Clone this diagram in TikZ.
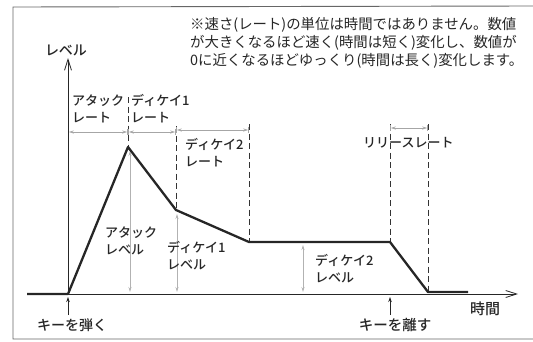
\documentclass[tikz,border=0pt]{standalone}
\usepackage{fontspec}
\setmainfont{Noto Sans CJK JP}
\newfontfamily\jpmed{Noto Sans CJK JP Medium}
\usetikzlibrary{arrows.meta}
\tikzset{
  lbl/.style={font=\jpmed\fontsize{13}{17}\selectfont, inner sep=0pt, align=left, text=black!85},
  notetxt/.style={font=\fontsize{14.4}{17}\selectfont, inner sep=0pt, anchor=west, text=black!85},
  env/.style={line width=2.3pt, draw=black!85, line join=round},
  axisline/.style={line width=0.9pt, draw=black!85, -{Straight Barb[length=11pt,width=7pt,line width=0.8pt]}},
  vdashed/.style={dashed, dash pattern=on 6pt off 3.5pt, line width=0.8pt, draw=black!80},
  dimline/.style={draw=black!35, line width=0.8pt, >={Stealth[length=5pt,width=3pt]}, |<->|},
  levline/.style={draw=black!30, line width=0.8pt, >={Stealth[length=5pt,width=3pt]}, <->},
  keyarr/.style={draw=black!85, line width=0.8pt, -{Stealth[length=5pt,width=3.5pt]}},
  framel/.style={draw=black!60, line width=0.9pt}
}
\begin{document}
\begin{tikzpicture}[x=1pt,y=-1pt]
\useasboundingbox (0,0) rectangle (533,341);
% frame
\draw[framel] (533,6) -- (13,7) -- (13,339) -- (533,339);
% coordinates
\coordinate (L0) at (27,294);
\coordinate (O) at (68,294);
\coordinate (P) at (128,147);
\coordinate (D1) at (176,210);
\coordinate (D2) at (249,242);
\coordinate (R) at (390,242);
\coordinate (E) at (428,292);
\coordinate (E2) at (468,292);
\coordinate (Xend) at (518,294);
\coordinate (Yend) at (68,58);
% dashed verticals
\coordinate (t1) at (128,97);
\coordinate (t2) at (176,126);
\coordinate (t3) at (249,124);
\coordinate (t4) at (390,124);
\coordinate (t5) at (428,124);
\draw[vdashed] (t1) -- (P);
\draw[vdashed] (t2) -- (D1);
\draw[vdashed] (t3) -- (D2);
\draw[vdashed] (t4) -- (R);
\draw[vdashed] (t5) -- (E);
% dimension arrows
\coordinate (a1) at (68,132);
\coordinate (a2) at (128,132);
\coordinate (a3) at (128,132);
\coordinate (a4) at (176,132);
\coordinate (a5) at (176,130);
\coordinate (a6) at (249,130);
\coordinate (a7) at (390,128);
\coordinate (a8) at (428,128);
\draw[dimline] (a1) -- (a2);
\draw[dimline] (a3) -- (a4);
\draw[dimline] (a5) -- (a6);
\draw[dimline] (a7) -- (a8);
% level arrows
\coordinate (b1) at (130,292);
\coordinate (b2) at (130,151);
\coordinate (b3) at (177,292);
\coordinate (b4) at (177,214);
\coordinate (b5) at (303,292);
\coordinate (b6) at (303,245);
\draw[levline] (b1) -- (b2);
\draw[levline] (b3) -- (b4);
\draw[levline] (b5) -- (b6);
% axes
\draw[axisline] (O) -- (Xend);
\draw[axisline] (O) -- (Yend);
% envelope
\draw[env] (L0) -- (O) -- (P) -- (D1) -- (D2) -- (R) -- (E) -- (E2);
% labels
\node[lbl, anchor=west] (ar) at (72,108.5) {アタック\\レート};
\node[lbl, anchor=west] (d1r) at (131,108.5) {ディケイ1\\レート};
\node[lbl, anchor=west] (d2r) at (185,152.5) {ディケイ2\\レート};
\node[lbl, anchor=west] (rr) at (363,143) {リリースレート};
\node[lbl, anchor=west] (al) at (105,240.5) {アタック\\レベル};
\node[lbl, anchor=west] (d1l) at (167,255.5) {ディケイ1\\レベル};
\node[lbl, anchor=west] (d2l) at (315,268.5) {ディケイ2\\レベル};
\node[lbl, font=\jpmed\fontsize{14}{17}\selectfont] (lv) at (66,50) {レベル};
\node[lbl, font=\jpmed\fontsize{15}{17}\selectfont] (tm) at (485,309) {時間};
\node[lbl, font=\jpmed\fontsize{14}{17}\selectfont] (kk) at (72,325) {キーを弾く};
\node[lbl, font=\jpmed\fontsize{14.5}{17}\selectfont] (kr) at (395,325) {キーを離す};
\coordinate (k1) at (68,297);
\coordinate (k1s) at (68,315);
\coordinate (k2) at (390,297);
\coordinate (k2s) at (390,315);
\draw[keyarr] (k1s) -- (k1);
\draw[keyarr] (k2s) -- (k2);
% note
\node[notetxt] (n1) at (190,25) {※速さ(レート)の単位は時間ではありません。数値};
\node[notetxt] (n2) at (190,43) {が大きくなるほど速く(時間は短く)変化し、数値が};
\node[notetxt] (n3) at (190,61) {0に近くなるほどゆっくり(時間は長く)変化します。};
\end{tikzpicture}
\end{document}
